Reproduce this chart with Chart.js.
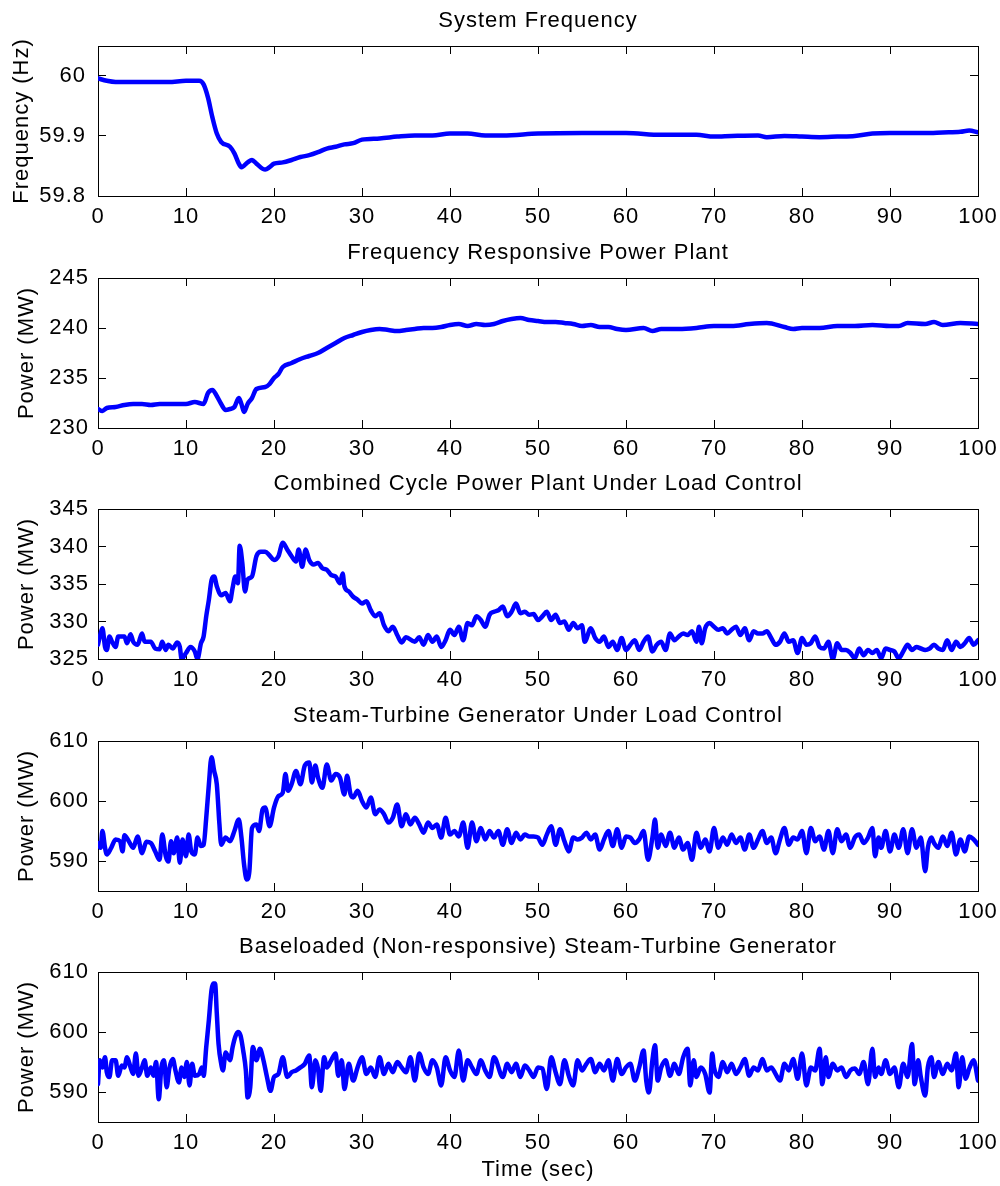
<!DOCTYPE html>
<html>
<head>
<meta charset="utf-8">
<title>System Frequency and Plant Power</title>
<script src="https://cdn.jsdelivr.net/npm/chart.js@4.4.1/dist/chart.umd.min.js"></script>
<style>
  body { margin: 0; background: #fff; }
  #fig { position: relative; width: 1000px; height: 1186px; background: #fff; }
  #fig canvas { position: absolute; left: 0; }
</style>
</head>
<body>
<div id="fig">
  <canvas id="painel1" width="1000" height="230" style="top:0px"></canvas>
  <canvas id="painel2" width="1000" height="230" style="top:232px"></canvas>
  <canvas id="painel3" width="1000" height="230" style="top:463px"></canvas>
  <canvas id="painel4" width="1000" height="230" style="top:695px"></canvas>
  <canvas id="painel5" width="1000" height="260" style="top:926px"></canvas>
</div>
<script>
// Tick labels
const timeTicks = [0, 10, 20, 30, 40, 50, 60, 70, 80, 90, 100];
const freqTicks = [59.8, 59.9, 60];
const frpTicks = [230, 235, 240, 245];
const ccTicks = [325, 330, 335, 340, 345];
const stgTicks = [590, 600, 610];
const baseTicks = [590, 600, 610];

// System frequency (Hz)
const freqTime = [0, 1, 2, 5, 8, 10, 11.5, 12, 12.5, 13,
  13.5, 14, 15, 15.5, 16, 16.3, 17, 17.5, 18, 19,
  19.5, 20, 21, 22, 23, 24, 25, 26, 27, 28,
  29, 30, 32, 34, 36, 38, 40, 42, 44, 46,
  50, 55, 60, 64, 68, 70, 72, 75, 76, 78,
  80, 82, 84, 86, 88, 90, 92, 94, 96, 98,
  99, 100];
const freqHz = [59.996, 59.992, 59.990, 59.990, 59.990, 59.992, 59.992, 59.986, 59.964, 59.931,
  59.904, 59.890, 59.882, 59.871, 59.854, 59.848, 59.856, 59.860, 59.854, 59.844,
  59.848, 59.854, 59.856, 59.860, 59.865, 59.868, 59.873, 59.879, 59.882, 59.886,
  59.888, 59.894, 59.896, 59.899, 59.901, 59.901, 59.904, 59.904, 59.901, 59.901,
  59.904, 59.905, 59.905, 59.902, 59.902, 59.899, 59.900, 59.901, 59.898, 59.900,
  59.899, 59.898, 59.899, 59.900, 59.904, 59.905, 59.905, 59.905, 59.906, 59.907,
  59.909, 59.906];

// Frequency responsive power plant (MW)
const frpTime = [0, 0.5, 1, 2, 3, 4, 5, 6, 7, 8,
  9, 10, 11, 12, 12.5, 13, 13.5, 14, 14.5, 15,
  15.5, 16, 16.3, 16.6, 17, 17.5, 18, 19, 19.5, 20,
  20.5, 21, 22, 23, 24, 25, 26, 27, 28, 29,
  30, 31, 32, 33, 34, 35, 36, 37, 38, 39,
  40, 41, 42, 43, 44, 45, 46, 47, 48, 49,
  50, 51, 52, 53, 54, 55, 56, 57, 58, 59,
  60, 62, 63, 64, 66, 68, 70, 72, 74, 76,
  78, 79, 80, 82, 84, 86, 88, 90, 91, 92,
  94, 95, 96, 98, 100];
const frpMW = [231.9, 231.7, 232.0, 232.1, 232.3, 232.4, 232.4, 232.3, 232.4, 232.4,
  232.4, 232.4, 232.6, 232.4, 233.5, 233.8, 233.2, 232.4, 231.8, 231.9,
  232.1, 233.0, 232.4, 231.6, 232.4, 233.0, 233.9, 234.1, 234.4, 235.0,
  235.4, 236.1, 236.5, 236.9, 237.2, 237.5, 238.0, 238.5, 239.0, 239.3,
  239.6, 239.8, 239.9, 239.8, 239.7, 239.8, 239.9, 240.0, 240.0, 240.1,
  240.3, 240.4, 240.2, 240.4, 240.3, 240.4, 240.7, 240.9, 241.0, 240.8,
  240.7, 240.6, 240.6, 240.5, 240.4, 240.2, 240.3, 240.1, 240.1, 239.9,
  239.8, 240.0, 239.7, 239.9, 239.9, 240.0, 240.2, 240.2, 240.4, 240.5,
  240.1, 239.9, 240.0, 240.0, 240.2, 240.2, 240.3, 240.2, 240.2, 240.5,
  240.4, 240.6, 240.3, 240.5, 240.4];

// Combined cycle power plant under load control (MW)
const ccTime = [0, 0.3, 0.5, 0.8, 1, 1.3, 1.6, 2, 2.3, 3,
  3.3, 3.7, 4, 4.5, 5, 5.3, 6, 6.5, 7, 7.3,
  7.7, 8, 8.5, 9, 9.3, 9.5, 10, 10.5, 11, 11.3,
  11.7, 12, 12.3, 12.6, 12.9, 13.2, 13.5, 14, 14.5, 15,
  15.3, 15.6, 15.9, 16.1, 16.4, 16.7, 17, 17.5, 18, 18.5,
  19, 19.5, 20, 20.5, 21, 21.5, 22, 22.5, 22.8, 23.2,
  23.6, 24, 24.5, 25, 25.5, 26, 26.5, 27, 27.5, 27.8,
  28, 28.5, 29, 29.5, 30, 30.5, 31, 31.5, 32, 32.5,
  33, 33.5, 34, 34.5, 35, 36, 36.5, 37, 37.5, 38,
  38.5, 39, 39.5, 40, 40.5, 41, 41.5, 42, 42.5, 43,
  43.5, 44, 44.5, 45, 45.5, 46, 46.5, 47, 47.5, 48,
  48.5, 49, 49.5, 50, 50.5, 51, 51.5, 52, 52.5, 53,
  53.5, 54, 54.5, 55, 55.3, 56, 56.5, 57, 57.5, 58,
  58.5, 59, 59.5, 60, 60.5, 61, 61.5, 62, 62.5, 63,
  63.5, 64, 64.5, 65, 65.5, 66, 66.5, 67, 67.5, 68,
  68.3, 68.6, 69, 69.5, 70, 70.5, 71, 71.5, 72, 72.5,
  73, 73.5, 74, 74.5, 75, 75.5, 76, 76.5, 77, 77.5,
  78, 78.5, 79, 79.5, 80, 80.5, 81, 81.5, 82, 82.5,
  83, 83.5, 84, 84.5, 85, 85.5, 86, 86.5, 87, 87.5,
  88, 88.5, 89, 89.5, 90, 90.5, 91, 91.5, 92, 92.5,
  93, 93.5, 94, 94.5, 95, 95.5, 96, 96.5, 97, 97.5,
  98, 98.5, 99, 99.5, 100];
const ccMW = [326.9, 328.4, 329.1, 326.6, 326.2, 328.0, 327.3, 326.6, 328.0, 328.0,
  327.1, 328.3, 327.3, 326.9, 328.4, 327.3, 327.3, 326.4, 326.3, 327.3,
  326.2, 326.9, 326.4, 327.2, 326.6, 325.0, 325.8, 326.6, 326.0, 325.0,
  327.1, 328.0, 330.7, 332.9, 335.5, 336.0, 334.7, 333.5, 333.8, 332.7,
  334.5, 336.0, 335.1, 340.1, 337.8, 334.0, 335.6, 336.0, 338.7, 339.3,
  339.3, 338.8, 338.2, 338.7, 340.5, 339.6, 338.7, 338.0, 339.6, 337.3,
  339.6, 338.2, 337.6, 337.8, 337.1, 336.9, 336.2, 336.0, 335.1, 336.4,
  334.7, 334.0, 333.3, 332.9, 332.4, 332.7, 331.5, 330.7, 331.1, 329.5,
  328.7, 329.3, 328.2, 327.2, 327.9, 327.3, 327.9, 326.9, 328.2, 327.3,
  328.0, 326.6, 327.5, 328.9, 328.2, 329.3, 327.5, 329.8, 329.5, 330.7,
  330.2, 329.3, 330.9, 331.3, 331.5, 332.0, 330.7, 331.3, 332.4, 331.1,
  331.3, 330.9, 331.0, 330.2, 330.7, 331.3, 330.2, 330.9, 329.8, 330.0,
  328.9, 329.8, 329.1, 329.5, 327.3, 329.1, 327.8, 327.3, 328.0, 326.6,
  327.3, 326.2, 327.8, 326.2, 326.9, 327.5, 326.2, 327.3, 328.0, 326.0,
  326.9, 327.3, 326.2, 328.4, 327.5, 328.0, 328.4, 328.2, 328.7, 327.3,
  329.3, 327.1, 329.1, 329.8, 329.3, 328.9, 329.1, 328.4, 328.9, 329.3,
  328.2, 329.1, 327.5, 328.7, 328.4, 328.4, 328.7, 327.8, 326.9, 327.3,
  328.4, 327.3, 327.5, 325.8, 327.8, 326.9, 327.1, 328.0, 326.6, 326.4,
  327.3, 325.0, 327.1, 326.2, 326.2, 325.8, 325.1, 326.4, 325.5, 326.2,
  325.8, 326.2, 325.1, 326.4, 326.2, 326.0, 325.1, 326.0, 326.9, 326.2,
  326.6, 326.4, 326.2, 326.4, 326.9, 326.4, 326.2, 327.5, 326.2, 327.3,
  326.6, 327.1, 327.8, 326.9, 327.5];

// Steam-turbine generator under load control (MW)
const stgTime = [0, 0.3, 0.5, 0.8, 1, 1.5, 2, 2.5, 2.8, 3,
  3.5, 4, 4.5, 5, 5.5, 6, 6.5, 7, 7.3, 7.7,
  8, 8.3, 8.6, 9, 9.3, 9.6, 10, 10.3, 10.6, 11,
  11.3, 11.7, 12, 12.3, 12.6, 12.9, 13.2, 13.5, 13.8, 14,
  14.5, 15, 15.5, 16, 16.3, 16.6, 16.9, 17.2, 17.5, 18,
  18.3, 18.7, 19, 19.5, 20, 20.5, 21, 21.3, 21.6, 22,
  22.5, 23, 23.5, 24, 24.3, 24.7, 25, 25.5, 26, 26.5,
  27, 27.5, 28, 28.3, 28.7, 29, 29.5, 30, 30.5, 31,
  31.5, 32, 32.5, 33, 33.5, 34, 34.5, 35, 35.5, 36,
  36.5, 37, 37.5, 38, 38.5, 39, 39.5, 40, 40.5, 41,
  41.5, 42, 42.5, 43, 43.5, 44, 44.5, 45, 45.5, 46,
  46.5, 47, 47.5, 48, 48.5, 49, 49.5, 50, 50.5, 51,
  51.5, 52, 52.5, 53, 53.5, 54, 54.5, 55, 55.5, 56,
  56.5, 57, 57.5, 58, 58.5, 59, 59.5, 60, 60.5, 61,
  61.5, 62, 62.5, 63, 63.3, 63.6, 64, 64.5, 65, 65.5,
  66, 66.5, 67, 67.5, 68, 68.5, 69, 69.5, 70, 70.5,
  71, 71.5, 72, 72.5, 73, 73.5, 74, 74.5, 75, 75.5,
  76, 76.5, 77, 77.5, 78, 78.5, 79, 79.5, 80, 80.5,
  81, 81.5, 82, 82.5, 83, 83.5, 84, 84.5, 85, 85.5,
  86, 86.5, 87, 87.5, 88, 88.3, 88.7, 89, 89.5, 90,
  90.5, 91, 91.5, 92, 92.5, 93, 93.5, 94, 94.3, 94.7,
  95, 95.5, 96, 96.5, 97, 97.5, 98, 98.5, 99, 99.5,
  100];
const stgMW = [593.0, 592.2, 595.0, 592.2, 591.1, 592.2, 593.6, 593.3, 591.6, 594.3,
  593.3, 592.2, 594.1, 591.3, 593.2, 593.0, 591.6, 590.2, 594.4, 590.8,
  589.9, 593.3, 591.3, 593.9, 589.7, 593.6, 590.8, 594.4, 591.6, 591.1,
  593.9, 592.5, 592.7, 597.2, 602.8, 607.3, 605.0, 602.8, 596.1, 592.7,
  593.9, 593.3, 595.0, 596.9, 593.9, 589.4, 586.9, 588.3, 595.5, 596.1,
  595.0, 598.6, 598.9, 595.8, 598.9, 600.8, 601.4, 604.5, 601.7, 602.8,
  605.0, 602.8, 605.9, 606.4, 603.1, 605.9, 603.9, 602.2, 606.1, 603.4,
  604.5, 603.9, 601.1, 604.2, 601.1, 600.6, 601.7, 600.0, 598.9, 600.6,
  597.8, 598.6, 597.8, 596.4, 597.2, 599.4, 595.8, 597.8, 596.1, 597.2,
  596.1, 594.7, 596.4, 595.5, 596.1, 593.9, 597.2, 594.4, 595.0, 594.1,
  596.4, 592.2, 596.4, 593.3, 595.5, 593.6, 595.0, 593.9, 595.0, 592.7,
  595.3, 593.0, 594.7, 593.6, 594.4, 594.1, 594.1, 593.9, 592.7, 594.4,
  595.8, 592.7, 595.3, 593.3, 591.6, 593.9, 593.6, 593.9, 594.7, 593.6,
  594.4, 591.9, 593.6, 595.0, 592.5, 595.3, 592.2, 594.1, 593.9, 593.0,
  593.6, 595.0, 590.2, 593.9, 596.9, 592.2, 594.4, 592.5, 594.7, 592.2,
  593.9, 591.9, 593.0, 590.2, 594.7, 592.2, 593.6, 591.6, 595.5, 592.2,
  593.9, 592.7, 594.4, 593.0, 593.9, 591.9, 594.4, 592.2, 593.6, 595.0,
  593.0, 593.9, 591.3, 593.6, 595.5, 592.7, 593.9, 593.6, 595.0, 591.3,
  595.5, 593.3, 594.1, 591.9, 595.0, 591.3, 595.3, 593.3, 594.4, 592.2,
  593.9, 594.4, 593.0, 593.9, 595.5, 590.8, 593.9, 592.2, 595.0, 591.6,
  594.4, 592.2, 595.3, 591.3, 595.3, 592.2, 593.9, 588.3, 592.2, 593.9,
  593.0, 592.2, 594.1, 592.5, 594.7, 591.1, 593.6, 591.6, 594.1, 593.6,
  592.7];

// Baseloaded (non-responsive) steam-turbine generator (MW)
const baseTime = [0, 0.2, 0.5, 0.8, 1, 1.3, 1.6, 2, 2.3, 2.7,
  3, 3.3, 3.7, 4, 4.3, 4.6, 5, 5.3, 5.6, 6,
  6.3, 6.6, 6.9, 7.2, 7.5, 7.8, 8.1, 8.5, 8.8, 9.2,
  9.5, 9.8, 10.1, 10.4, 10.7, 11, 11.5, 11.8, 12, 12.3,
  12.6, 12.9, 13.1, 13.3, 13.5, 13.7, 14, 14.2, 14.5, 15,
  15.3, 15.6, 15.9, 16.2, 16.5, 16.8, 17, 17.3, 17.6, 18,
  18.4, 18.8, 19.2, 19.6, 20, 20.5, 21, 21.5, 22, 22.5,
  23, 23.5, 24, 24.3, 24.7, 25, 25.3, 25.7, 26, 26.5,
  27, 27.3, 27.7, 28, 28.5, 29, 29.5, 30, 30.5, 31,
  31.5, 32, 32.5, 33, 33.5, 34, 34.5, 35, 35.5, 36,
  36.5, 37, 37.5, 38, 38.5, 39, 39.5, 40, 40.5, 41,
  41.5, 42, 42.5, 43, 43.5, 44, 44.5, 45, 46, 46.5,
  47, 47.5, 48, 48.5, 49, 49.5, 50, 50.5, 51, 51.5,
  52, 52.5, 53, 53.5, 54, 54.5, 55, 55.5, 56, 56.5,
  57, 57.5, 58, 58.5, 59, 59.5, 60, 60.5, 61, 61.5,
  62, 62.3, 62.6, 63, 63.3, 63.6, 64, 64.5, 65, 65.5,
  66, 66.5, 67, 67.3, 67.7, 68, 68.5, 69, 69.5, 69.8,
  70, 70.5, 71, 71.5, 72, 72.5, 73, 73.5, 74, 74.5,
  75, 75.5, 76, 76.5, 77, 77.5, 78, 78.5, 79, 79.5,
  80, 80.5, 81, 81.5, 82, 82.3, 82.7, 83, 83.5, 84,
  84.5, 85, 85.5, 86, 86.5, 87, 87.5, 88, 88.3, 88.7,
  89, 89.5, 90, 90.5, 91, 91.5, 92, 92.5, 92.8, 93.2,
  93.5, 94, 94.3, 94.7, 95, 95.5, 96, 96.5, 97, 97.5,
  97.8, 98.2, 98.6, 99, 99.5, 100];
const baseMW = [591.3, 595.3, 594.1, 595.8, 593.3, 592.5, 595.3, 595.3, 592.7, 594.4,
  594.1, 595.8, 594.1, 593.0, 596.4, 592.7, 594.1, 595.3, 592.7, 594.1,
  592.7, 595.0, 588.8, 594.1, 595.3, 590.8, 593.9, 595.5, 593.6, 591.6,
  594.1, 592.5, 595.0, 591.1, 594.7, 592.7, 593.0, 594.1, 592.7, 597.5,
  602.0, 607.0, 608.1, 608.1, 603.1, 598.0, 594.7, 593.6, 596.6, 595.3,
  597.5, 599.2, 600.0, 599.4, 596.9, 593.6, 589.1, 590.8, 597.5, 595.3,
  597.2, 595.3, 592.5, 590.2, 592.5, 593.0, 595.8, 592.5, 593.3, 593.6,
  594.1, 594.7, 596.1, 590.8, 595.3, 593.9, 590.2, 595.8, 594.1, 595.3,
  596.4, 592.7, 595.3, 590.5, 594.7, 591.9, 594.1, 595.8, 593.0, 594.1,
  592.5, 595.8, 593.0, 594.7, 593.3, 595.0, 594.1, 593.3, 595.8, 591.9,
  596.4, 594.1, 593.0, 595.3, 594.1, 591.1, 595.8, 593.6, 592.5, 596.9,
  591.9, 595.3, 594.1, 593.0, 595.3, 593.6, 592.5, 595.8, 592.5, 594.7,
  593.3, 594.7, 592.5, 594.4, 593.6, 592.5, 594.1, 593.9, 590.5, 595.8,
  593.3, 591.3, 595.3, 592.7, 591.1, 595.3, 593.6, 594.7, 595.5, 593.3,
  594.7, 593.6, 595.3, 591.9, 595.5, 593.0, 594.1, 594.7, 591.9, 594.1,
  596.9, 591.9, 589.9, 595.3, 597.8, 591.9, 594.1, 595.3, 592.7, 594.7,
  593.0, 595.8, 597.2, 591.1, 595.3, 592.5, 594.1, 593.0, 589.9, 596.4,
  594.1, 592.5, 595.0, 593.3, 594.7, 593.0, 594.1, 595.5, 592.7, 594.1,
  593.6, 595.5, 593.6, 594.1, 593.0, 591.9, 594.7, 593.6, 595.5, 592.2,
  596.4, 591.1, 594.1, 593.6, 597.2, 591.3, 595.8, 592.5, 594.7, 593.6,
  594.1, 592.5, 593.6, 593.9, 593.0, 595.0, 591.3, 597.2, 592.5, 594.1,
  593.0, 595.3, 593.0, 594.1, 590.8, 594.7, 592.5, 598.0, 591.3, 595.3,
  592.5, 589.4, 594.1, 595.8, 592.5, 595.0, 593.0, 594.7, 593.6, 596.4,
  590.8, 595.8, 592.2, 593.9, 595.3, 591.9];

// Fonte parecida com a do MATLAB (Helvetica)
Chart.defaults.font.family = '"Liberation Sans", Arial, Helvetica, sans-serif';
Chart.defaults.font.size = 22;
Chart.defaults.color = '#000';

// Letter spacing on the canvas, the original text is spaced out a bit
const spacingPlugin = {
  id: 'spacing',
  beforeLayout(chart) { chart.ctx.letterSpacing = '1px'; },
  beforeDraw(chart) { chart.ctx.letterSpacing = '1px'; }
};

// Ticks pointing inside the box, like MATLAB
const axisGrid = { display: true, drawOnChartArea: false, drawTicks: true, tickLength: -8, color: '#000', lineWidth: 1 };
const axisBorder = { display: true, color: '#000', width: 1 };

function tickList(values) {
  return scale => { scale.ticks = values.map(v => ({ value: v })); };
}

// Fixes the size of an axis so every panel has the same plot box
function fixSize(prop, size) {
  return scale => {
    scale[prop] = size;
    scale.paddingLeft = 0;
    scale.paddingRight = 0;
    scale.paddingTop = 0;
    scale.paddingBottom = 0;
  };
}

function drawPanel(canvasId, title, yLabel, times, values, yMin, yMax, yTicks, opts) {
  const ctx = document.getElementById(canvasId).getContext('2d');
  const points = times.map((t, i) => ({ x: t, y: values[i] }));

  return new Chart(ctx, {
    type: 'line',
    data: {
      datasets: [{
        data: points,
        borderColor: '#0000ff',
        borderWidth: 4.5,
        borderJoinStyle: 'round',
        borderCapStyle: 'round',
        cubicInterpolationMode: 'monotone',
        pointRadius: 0,
        clip: 0
      }]
    },
    options: {
      responsive: false,
      animation: false,
      devicePixelRatio: 1,
      layout: { padding: { left: 0, right: 22, top: 0, bottom: 0 } },
      plugins: {
        legend: { display: false },
        tooltip: { enabled: false },
        title: {
          display: true,
          text: title,
          fullSize: false,
          color: '#000',
          font: { size: 22, weight: 'normal', lineHeight: '41px' },
          padding: { top: 0, bottom: 5 }
        }
      },
      scales: {
        x: {
          type: 'linear',
          position: 'bottom',
          min: 0,
          max: 100,
          afterBuildTicks: tickList(timeTicks),
          afterFit: fixSize('height', opts.xHeight),
          grid: axisGrid,
          border: axisBorder,
          ticks: { padding: 15.3, autoSkip: false, maxRotation: 0, callback: v => String(v) },
          title: {
            display: !!opts.xLabel,
            text: opts.xLabel || '',
            font: { size: 22 },
            padding: { top: 0, bottom: 2.8 }
          }
        },
        xTop: {
          type: 'linear',
          position: 'top',
          min: 0,
          max: 100,
          afterBuildTicks: tickList(timeTicks),
          afterFit: fixSize('height', 0),
          grid: axisGrid,
          border: axisBorder,
          ticks: { display: false }
        },
        y: {
          type: 'linear',
          position: 'left',
          min: yMin,
          max: yMax,
          afterBuildTicks: tickList(yTicks),
          afterFit: fixSize('width', 98),
          grid: axisGrid,
          border: axisBorder,
          ticks: { padding: opts.yTickPad, callback: v => String(v) },
          title: {
            display: true,
            text: yLabel,
            font: { size: 22 },
            padding: { top: opts.yTitlePad, bottom: 0 }
          }
        },
        yRight: {
          type: 'linear',
          position: 'right',
          min: yMin,
          max: yMax,
          afterBuildTicks: tickList(yTicks),
          afterFit: fixSize('width', 0),
          grid: axisGrid,
          border: axisBorder,
          ticks: { display: false }
        }
      }
    },
    plugins: [spacingPlugin]
  });
}

drawPanel('painel1', 'System Frequency', 'Frequency (Hz)', freqTime, freqHz, 59.8, 60.05, freqTicks,
  { xHeight: 34, yTickPad: 20, yTitlePad: 8.5 });
drawPanel('painel2', 'Frequency Responsive Power Plant', 'Power (MW)', frpTime, frpMW, 230, 245, frpTicks,
  { xHeight: 34, yTickPad: 17, yTitlePad: 13.8 });
drawPanel('painel3', 'Combined Cycle Power Plant Under Load Control', 'Power (MW)', ccTime, ccMW, 325, 345, ccTicks,
  { xHeight: 34, yTickPad: 17, yTitlePad: 13.8 });
drawPanel('painel4', 'Steam-Turbine Generator Under Load Control', 'Power (MW)', stgTime, stgMW, 585, 610, stgTicks,
  { xHeight: 34, yTickPad: 17, yTitlePad: 13.8 });
drawPanel('painel5', 'Baseloaded (Non-responsive) Steam-Turbine Generator', 'Power (MW)', baseTime, baseMW, 585, 610, baseTicks,
  { xHeight: 64, yTickPad: 17, yTitlePad: 13.8, xLabel: 'Time (sec)' });
</script>
</body>
</html>
